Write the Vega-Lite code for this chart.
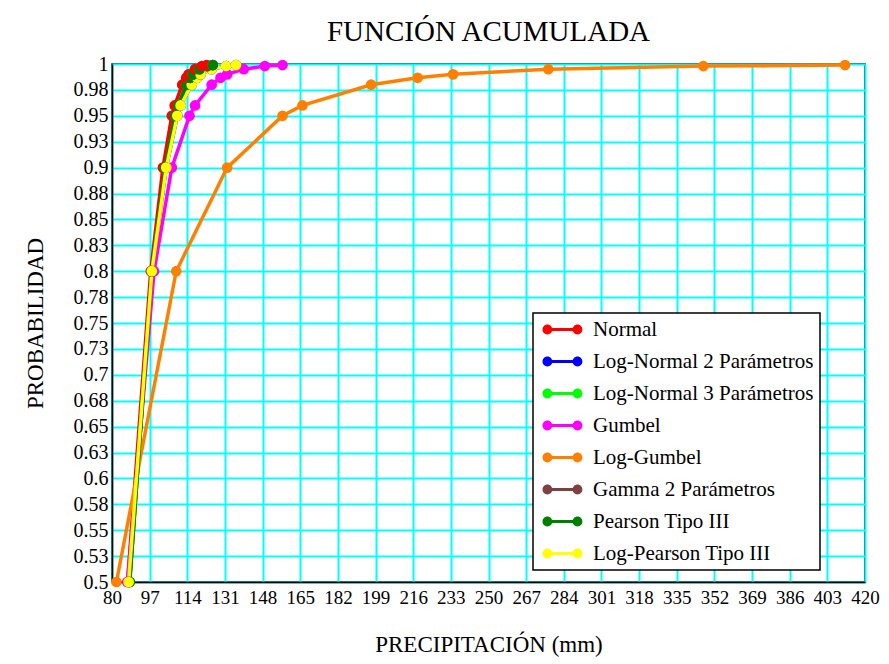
{
  "$schema": "https://vega.github.io/schema/vega-lite/v6.json",
  "width": 753,
  "height": 518,
  "autosize": "none",
  "padding": {"left": 112, "top": 64, "right": 24, "bottom": 82},
  "background": "white",
  "title": {"text": "FUNCIÓN ACUMULADA", "font": "Liberation Serif", "fontSize": 29, "fontWeight": "normal", "color": "black", "anchor": "middle", "offset": 7},
  "config": {
    "view": {"stroke": "black", "strokeWidth": 1.5},
    "axis": {"labelFont": "Liberation Serif", "titleFont": "Liberation Serif", "labelColor": "black", "titleColor": "black", "titleFontWeight": "normal", "ticks": false, "domainColor": "black", "domainWidth": 1.5, "gridColor": "#00FFFF", "gridWidth": 2, "gridOpacity": 1, "labelOverlap": false, "labelFlush": false}
  },
  "data": {
    "values": [
      {"dist": "Normal", "p": 0.5, "x": 87},
      {"dist": "Normal", "p": 0.8, "x": 97.5},
      {"dist": "Normal", "p": 0.9, "x": 103},
      {"dist": "Normal", "p": 0.95, "x": 107},
      {"dist": "Normal", "p": 0.96, "x": 108.3},
      {"dist": "Normal", "p": 0.98, "x": 111.7},
      {"dist": "Normal", "p": 0.9867, "x": 113.5},
      {"dist": "Normal", "p": 0.99, "x": 114.6},
      {"dist": "Normal", "p": 0.995, "x": 117.4},
      {"dist": "Normal", "p": 0.998, "x": 120.6},
      {"dist": "Normal", "p": 0.999, "x": 122.8},
      {"dist": "Log-Normal 2 Parámetros", "p": 0.5, "x": 87.5},
      {"dist": "Log-Normal 2 Parámetros", "p": 0.8, "x": 98},
      {"dist": "Log-Normal 2 Parámetros", "p": 0.9, "x": 104.5},
      {"dist": "Log-Normal 2 Parámetros", "p": 0.95, "x": 109.5},
      {"dist": "Log-Normal 2 Parámetros", "p": 0.96, "x": 111},
      {"dist": "Log-Normal 2 Parámetros", "p": 0.98, "x": 116},
      {"dist": "Log-Normal 2 Parámetros", "p": 0.9867, "x": 118.5},
      {"dist": "Log-Normal 2 Parámetros", "p": 0.99, "x": 120},
      {"dist": "Log-Normal 2 Parámetros", "p": 0.995, "x": 125},
      {"dist": "Log-Normal 2 Parámetros", "p": 0.998, "x": 131.5},
      {"dist": "Log-Normal 2 Parámetros", "p": 0.999, "x": 136},
      {"dist": "Log-Normal 3 Parámetros", "p": 0.5, "x": 88},
      {"dist": "Log-Normal 3 Parámetros", "p": 0.8, "x": 98},
      {"dist": "Log-Normal 3 Parámetros", "p": 0.9, "x": 104},
      {"dist": "Log-Normal 3 Parámetros", "p": 0.95, "x": 108.5},
      {"dist": "Log-Normal 3 Parámetros", "p": 0.96, "x": 110},
      {"dist": "Log-Normal 3 Parámetros", "p": 0.98, "x": 113.5},
      {"dist": "Log-Normal 3 Parámetros", "p": 0.9867, "x": 115.3},
      {"dist": "Log-Normal 3 Parámetros", "p": 0.99, "x": 116.5},
      {"dist": "Log-Normal 3 Parámetros", "p": 0.995, "x": 119.5},
      {"dist": "Log-Normal 3 Parámetros", "p": 0.998, "x": 123},
      {"dist": "Log-Normal 3 Parámetros", "p": 0.999, "x": 125.5},
      {"dist": "Gumbel", "p": 0.5, "x": 87},
      {"dist": "Gumbel", "p": 0.8, "x": 99},
      {"dist": "Gumbel", "p": 0.9, "x": 107},
      {"dist": "Gumbel", "p": 0.95, "x": 115},
      {"dist": "Gumbel", "p": 0.96, "x": 117.5},
      {"dist": "Gumbel", "p": 0.98, "x": 125},
      {"dist": "Gumbel", "p": 0.9867, "x": 129},
      {"dist": "Gumbel", "p": 0.99, "x": 132},
      {"dist": "Gumbel", "p": 0.995, "x": 139.5},
      {"dist": "Gumbel", "p": 0.998, "x": 149},
      {"dist": "Gumbel", "p": 0.999, "x": 157},
      {"dist": "Log-Gumbel", "p": 0.5, "x": 82},
      {"dist": "Log-Gumbel", "p": 0.8, "x": 109},
      {"dist": "Log-Gumbel", "p": 0.9, "x": 132},
      {"dist": "Log-Gumbel", "p": 0.95, "x": 157},
      {"dist": "Log-Gumbel", "p": 0.96, "x": 166},
      {"dist": "Log-Gumbel", "p": 0.98, "x": 197},
      {"dist": "Log-Gumbel", "p": 0.9867, "x": 218},
      {"dist": "Log-Gumbel", "p": 0.99, "x": 234},
      {"dist": "Log-Gumbel", "p": 0.995, "x": 277},
      {"dist": "Log-Gumbel", "p": 0.998, "x": 347},
      {"dist": "Log-Gumbel", "p": 0.999, "x": 411},
      {"dist": "Gamma 2 Parámetros", "p": 0.5, "x": 88},
      {"dist": "Gamma 2 Parámetros", "p": 0.8, "x": 98},
      {"dist": "Gamma 2 Parámetros", "p": 0.9, "x": 104},
      {"dist": "Gamma 2 Parámetros", "p": 0.95, "x": 108.5},
      {"dist": "Gamma 2 Parámetros", "p": 0.96, "x": 110},
      {"dist": "Gamma 2 Parámetros", "p": 0.98, "x": 113.5},
      {"dist": "Gamma 2 Parámetros", "p": 0.9867, "x": 115.3},
      {"dist": "Gamma 2 Parámetros", "p": 0.99, "x": 116.5},
      {"dist": "Gamma 2 Parámetros", "p": 0.995, "x": 119.5},
      {"dist": "Gamma 2 Parámetros", "p": 0.998, "x": 123},
      {"dist": "Gamma 2 Parámetros", "p": 0.999, "x": 125.5},
      {"dist": "Pearson Tipo III", "p": 0.5, "x": 88},
      {"dist": "Pearson Tipo III", "p": 0.8, "x": 98},
      {"dist": "Pearson Tipo III", "p": 0.9, "x": 104},
      {"dist": "Pearson Tipo III", "p": 0.95, "x": 108.5},
      {"dist": "Pearson Tipo III", "p": 0.96, "x": 110},
      {"dist": "Pearson Tipo III", "p": 0.98, "x": 113.5},
      {"dist": "Pearson Tipo III", "p": 0.9867, "x": 115.3},
      {"dist": "Pearson Tipo III", "p": 0.99, "x": 116.5},
      {"dist": "Pearson Tipo III", "p": 0.995, "x": 119.5},
      {"dist": "Pearson Tipo III", "p": 0.998, "x": 123},
      {"dist": "Pearson Tipo III", "p": 0.999, "x": 125.5},
      {"dist": "Log-Pearson Tipo III", "p": 0.5, "x": 87.5},
      {"dist": "Log-Pearson Tipo III", "p": 0.8, "x": 98},
      {"dist": "Log-Pearson Tipo III", "p": 0.9, "x": 104.5},
      {"dist": "Log-Pearson Tipo III", "p": 0.95, "x": 109.5},
      {"dist": "Log-Pearson Tipo III", "p": 0.96, "x": 111},
      {"dist": "Log-Pearson Tipo III", "p": 0.98, "x": 116},
      {"dist": "Log-Pearson Tipo III", "p": 0.9867, "x": 118.5},
      {"dist": "Log-Pearson Tipo III", "p": 0.99, "x": 120},
      {"dist": "Log-Pearson Tipo III", "p": 0.995, "x": 125},
      {"dist": "Log-Pearson Tipo III", "p": 0.998, "x": 131.5},
      {"dist": "Log-Pearson Tipo III", "p": 0.999, "x": 136}
    ]
  },
  "mark": {"type": "line", "strokeWidth": 3.5, "point": {"filled": true, "size": 115}},
  "encoding": {
    "x": {
      "field": "x", "type": "quantitative",
      "scale": {"domain": [80, 420], "nice": false, "zero": false},
      "axis": {"values": [80, 97, 114, 131, 148, 165, 182, 199, 216, 233, 250, 267, 284, 301, 318, 335, 352, 369, 386, 403, 420], "labelFontSize": 19, "labelPadding": 6, "labelDx": 3, "title": "PRECIPITACIÓN (mm)", "titleFontSize": 23, "titlePadding": 26}
    },
    "y": {
      "field": "p", "type": "quantitative",
      "scale": {"domain": [0.5, 1], "nice": false, "zero": false},
      "axis": {"values": [0.5, 0.525, 0.55, 0.575, 0.6, 0.625, 0.65, 0.675, 0.7, 0.725, 0.75, 0.775, 0.8, 0.825, 0.85, 0.875, 0.9, 0.925, 0.95, 0.975, 1], "labelExpr": "format(datum.value + 0.0001, '.2~f')", "labelFontSize": 20, "labelPadding": 4, "title": "PROBABILIDAD", "titleFontSize": 23, "titlePadding": 26}
    },
    "order": {"field": "p", "type": "quantitative"},
    "color": {
      "field": "dist", "type": "nominal",
      "scale": {
        "domain": ["Normal", "Log-Normal 2 Parámetros", "Log-Normal 3 Parámetros", "Gumbel", "Log-Gumbel", "Gamma 2 Parámetros", "Pearson Tipo III", "Log-Pearson Tipo III"],
        "range": ["#FF0000", "#0000FF", "#00FF00", "#FF00FF", "#FF8000", "#804040", "#008000", "#FFFF00"]
      },
      "legend": {
        "title": null,
        "orient": "none",
        "legendX": 421,
        "legendY": 249,
        "fillColor": "white",
        "strokeColor": "black",
        "padding": 6,
        "labelFont": "Liberation Serif",
        "labelFontSize": 21,
        "labelColor": "black",
        "labelOffset": 33,
        "labelLimit": 400,
        "rowPadding": 10,
        "symbolType": "M0.4,0A0.7,0.7,0,1,1,-1,0A0.7,0.7,0,1,1,0.4,0Z M4.7,0A0.7,0.7,0,1,1,3.3,0A0.7,0.7,0,1,1,4.7,0Z M-0.3,-0.22L4,-0.22L4,0.22L-0.3,0.22Z",
        "symbolSize": 196,
        "symbolStrokeWidth": 0,
        "symbolOpacity": 1,
        "encode": {
          "legend": {"update": {"strokeWidth": {"value": 1.5}}},
          "symbols": {"update": {"fill": {"scale": "color", "field": "value"}, "strokeWidth": {"value": 0}}}
        }
      }
    }
  }
}
